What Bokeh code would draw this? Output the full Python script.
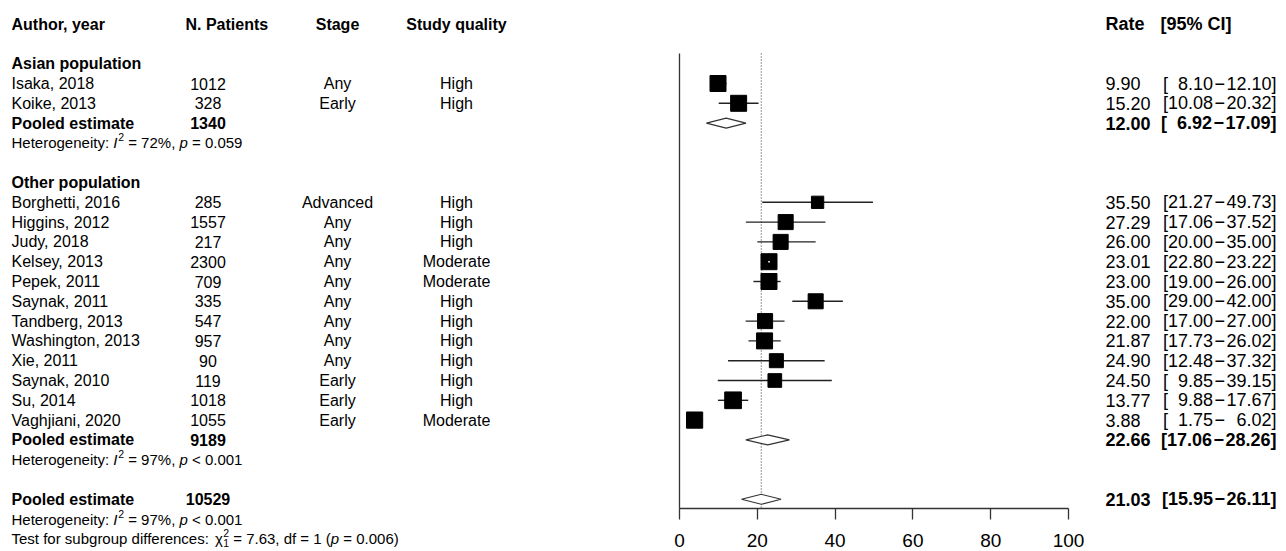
import math
from bokeh.plotting import figure
from bokeh.models import Range1d, LinearAxis, FixedTicker, ColumnDataSource, Label
from bokeh.embed import file_html
from bokeh.resources import INLINE

# ---------------- data ----------------
col_headers = ["Author, year", "N. Patients", "Stage", "Study quality", "Rate", "[95% CI]"]
group_names = ["Asian population", "Other population"]

asian_authors = ["Isaka, 2018", "Koike, 2013"]
asian_n = [1012, 328]
asian_stage = ["Any", "Early"]
asian_quality = ["High", "High"]
asian_rate = [9.90, 15.20]
asian_lo = [8.10, 10.08]
asian_hi = [12.10, 20.32]
asian_weight = [7.8, 7.8]

other_authors = ["Borghetti, 2016", "Higgins, 2012", "Judy, 2018", "Kelsey, 2013", "Pepek, 2011",
                 "Saynak, 2011", "Tandberg, 2013", "Washington, 2013", "Xie, 2011", "Saynak, 2010",
                 "Su, 2014", "Vaghjiani, 2020"]
other_n = [285, 1557, 217, 2300, 709, 335, 547, 957, 90, 119, 1018, 1055]
other_stage = ["Advanced", "Any", "Any", "Any", "Any", "Any", "Any", "Any", "Any", "Early", "Early", "Early"]
other_quality = ["High", "High", "High", "Moderate", "Moderate", "High", "High", "High", "High",
                 "High", "High", "Moderate"]
other_rate = [35.50, 27.29, 26.00, 23.01, 23.00, 35.00, 22.00, 21.87, 24.90, 24.50, 13.77, 3.88]
other_lo = [21.27, 17.06, 20.00, 22.80, 19.00, 29.00, 17.00, 17.73, 12.48, 9.85, 9.88, 1.75]
other_hi = [49.73, 37.52, 35.00, 23.22, 26.00, 42.00, 27.00, 26.02, 37.32, 39.15, 17.67, 6.02]
other_weight = [4.6, 6.9, 6.9, 7.8, 7.8, 6.9, 6.9, 7.8, 6.0, 5.7, 8.5, 8.0]

pooled_label = "Pooled estimate"
pooled_n = [1340, 9189, 10529]          # Asian, Other, Overall
pooled_rate = [12.00, 22.66, 21.03]
pooled_lo = [6.92, 17.06, 15.95]
pooled_hi = [17.09, 28.26, 26.11]
het_i2 = ["72%", "97%", "97%"]
het_p = ["= 0.059", "< 0.001", "< 0.001"]
test_chi2 = "7.63"
test_df = "1"
test_p = "0.006"

x_ticks = [0, 20, 40, 60, 80, 100]

# ---------------- layout constants ----------------
W, H = 1286, 551
PAGE = 0
X0_PX, PX_PER_UNIT = 679.0, 3.89
ROW1_PX, ROW_PX = 83.0, 19.8
AXIS_PX = 508
LINE_TOP_PX = 53.0

FONT = "Liberation Sans"
BODY, HET, RIGHT, SUP = 16, 15, 18, 10.5
AUTHOR_PX, N_PX, N_HEAD_PX, STAGE_PX, QUAL_PX = 11, 207.5, 185, 337, 456
RATE_PX, CI_PX, CI_HEAD_PX = 1105, 1276, 1160


def px2x(px):
    return (px - X0_PX) / PX_PER_UNIT


def row_of_px(py):
    return 1 + (py - ROW1_PX) / ROW_PX


x_start, x_end = px2x(PAGE), px2x(PAGE + W)
r_top, r_bot = row_of_px(PAGE), row_of_px(PAGE + H)
r_axis = row_of_px(AXIS_PX)

# rows
asian_head = 0
asian_rows = [asian_head + 1 + i for i in range(len(asian_authors))]
asian_pool_row = asian_rows[-1] + 1
asian_het_row = asian_pool_row + 1
other_head = asian_het_row + 2
other_rows = [other_head + 1 + i for i in range(len(other_authors))]
other_pool_row = other_rows[-1] + 1
other_het_row = other_pool_row + 1
overall_pool_row = other_het_row + 2
overall_het_row = overall_pool_row + 1
test_row = overall_het_row + 1
header_row = asian_head - 2

# ---------------- text helpers ----------------
ARIAL = {' ': 278, ':': 278, ',': 278, '.': 278, '=': 584, '<': 584, '%': 889, '(': 333, ')': 333,
         'H': 722, 'T': 611, 'I': 278, 'a': 556, 'b': 556, 'c': 500, 'd': 556, 'e': 556, 'f': 278,
         'g': 556, 'h': 556, 'i': 222, 'k': 500, 'l': 222, 'm': 833, 'n': 556, 'o': 556, 'p': 556,
         'r': 333, 's': 500, 't': 278, 'u': 556, 'y': 500, 'χ': 520}


def tw(s, size):
    return sum(ARIAL.get(c, 556) for c in s) * size / 1000.0


TEXTS = []


def add(x_px, row, text, size, style="normal", align="left"):
    TEXTS.append(dict(x=px2x(x_px), y=row, text=text, size=f"{size}px", style=style, align=align))


def rich(x_px, row, parts):
    cur = x_px
    for part in parts:
        kind, s = part[0], part[1]
        if kind in ("n", "i"):
            lead = len(s) - len(s.lstrip(" "))
            body = s.strip(" ")
            if body:
                add(cur + tw(" " * lead, HET), row, body, HET, "italic" if kind == "i" else "normal")
            cur += tw(s, HET)
        elif kind == "sup":
            add(cur + 0.8, row - 5.5 / ROW_PX, s, SUP)
            cur += tw(s, SUP) + 0.8
        elif kind == "supsub":
            sub = part[2]
            add(cur + 0.5, row - 5.5 / ROW_PX, s, SUP)
            add(cur + 0.5, row + 4.5 / ROW_PX, sub, SUP)
            cur += max(tw(s, SUP), tw(sub, SUP)) + 0.5


def het_line(row, i2, p):
    rich(AUTHOR_PX, row, [("n", "Heterogeneity: "), ("i", "I"), ("sup", "2"),
                          ("n", f" = {i2}, "), ("i", "p"), ("n", f" {p}")])


def ci_text(lo, hi):
    def pad(v):
        s = f"{v:.2f}"
        return ("\u2007" + s) if v < 10 else s
    return f"[{pad(lo)}\u200a\u2212\u200a{pad(hi)}]"


# headers
add(AUTHOR_PX, header_row, col_headers[0], BODY, "bold")
add(N_HEAD_PX, header_row, col_headers[1], BODY, "bold")
add(STAGE_PX, header_row, col_headers[2], BODY, "bold", "center")
add(QUAL_PX, header_row, col_headers[3], BODY, "bold", "center")
add(RATE_PX, header_row, col_headers[4], RIGHT, "bold")
add(CI_HEAD_PX, header_row, col_headers[5], RIGHT, "bold")

groups = [
    (group_names[0], asian_head, asian_rows, asian_authors, asian_n, asian_stage, asian_quality,
     asian_rate, asian_lo, asian_hi, asian_pool_row, asian_het_row, 0),
    (group_names[1], other_head, other_rows, other_authors, other_n, other_stage, other_quality,
     other_rate, other_lo, other_hi, other_pool_row, other_het_row, 1),
]
for (gname, ghead, grows, auth, nn, stg, qual, rate, lo, hi, prow, hrow, gi) in groups:
    add(AUTHOR_PX, ghead, gname, BODY, "bold")
    for r, a, n_, s_, q_, e_, l_, h_ in zip(grows, auth, nn, stg, qual, rate, lo, hi):
        add(AUTHOR_PX, r, a, BODY)
        add(N_PX, r, str(n_), BODY, align="center")
        add(STAGE_PX, r, s_, BODY, align="center")
        add(QUAL_PX, r, q_, BODY, align="center")
        add(RATE_PX, r, f"{e_:.2f}", RIGHT)
        add(CI_PX, r, ci_text(l_, h_), RIGHT, align="right")
    add(AUTHOR_PX, prow, pooled_label, BODY, "bold")
    add(N_PX, prow, str(pooled_n[gi]), BODY, "bold", "center")
    add(RATE_PX, prow, f"{pooled_rate[gi]:.2f}", RIGHT, "bold")
    add(CI_PX, prow, ci_text(pooled_lo[gi], pooled_hi[gi]), RIGHT, "bold", "right")
    het_line(hrow, het_i2[gi], het_p[gi])

add(AUTHOR_PX, overall_pool_row, pooled_label, BODY, "bold")
add(N_PX, overall_pool_row, str(pooled_n[2]), BODY, "bold", "center")
add(RATE_PX, overall_pool_row, f"{pooled_rate[2]:.2f}", RIGHT, "bold")
add(CI_PX, overall_pool_row, ci_text(pooled_lo[2], pooled_hi[2]), RIGHT, "bold", "right")
het_line(overall_het_row, het_i2[2], het_p[2])
rich(AUTHOR_PX, test_row, [("n", "Test for subgroup differences: "), ("n", "\u03c7"),
                           ("supsub", "2", "1"), ("n", f" = {test_chi2}, df = {test_df} ("),
                           ("i", "p"), ("n", f" = {test_p})")])

# ---------------- figure ----------------
p = figure(width=W, height=H, x_range=Range1d(x_start, x_end), y_range=Range1d(r_bot, r_top),
           x_axis_location=None, y_axis_location=None, toolbar_location=None,
           output_backend="svg", min_border=0)
p.outline_line_color = None
p.grid.visible = False
p.background_fill_color = "white"
p.border_fill_color = "white"

# vertical left line and dotted reference line at overall estimate
line_top = row_of_px(LINE_TOP_PX)
p.segment(x0=[0], x1=[0], y0=[line_top], y1=[r_axis], line_color="#333333", line_width=1.3)
p.segment(x0=[pooled_rate[2]], x1=[pooled_rate[2]], y0=[line_top], y1=[r_axis],
          line_color="#555555", line_width=1.2, line_dash="1 2")

# studies
st_rows = asian_rows + other_rows
st_est = asian_rate + other_rate
st_lo = asian_lo + other_lo
st_hi = asian_hi + other_hi
st_w = asian_weight + other_weight
BOX_REF, W_REF = 16.7, 8.5
st_size = [BOX_REF * math.sqrt(w / W_REF) for w in st_w]
inside = [(l >= e - s / 2 / PX_PER_UNIT) and (h <= e + s / 2 / PX_PER_UNIT)
          for e, l, h, s in zip(st_est, st_lo, st_hi, st_size)]

src = ColumnDataSource(dict(y=st_rows, est=st_est, lo=st_lo, hi=st_hi, size=st_size))
p.segment(x0="lo", x1="hi", y0="y", y1="y", source=src, line_color="#222222", line_width=1.4)
p.rect(x="est", y="y", width="size", height="size", width_units="screen", height_units="screen",
       source=src, fill_color="black", line_color="black")
ins = [i for i, v in enumerate(inside) if v]
if ins:
    p.segment(x0=[st_lo[i] for i in ins], x1=[st_hi[i] for i in ins],
              y0=[st_rows[i] for i in ins], y1=[st_rows[i] for i in ins],
              line_color="white", line_width=1.4)

# pooled diamonds
pool_rows = [asian_pool_row, other_pool_row, overall_pool_row]
hh = 5.0 / ROW_PX
p.patches(xs=[[l, e, h, e] for e, l, h in zip(pooled_rate, pooled_lo, pooled_hi)],
          ys=[[r, r - hh, r, r + hh] for r in pool_rows],
          fill_color="white", line_color="#333333", line_width=1.1)

# x axis, drawn at a fixed row inside the frame
ax = LinearAxis(ticker=FixedTicker(ticks=x_ticks), bounds=(0, 100), fixed_location=r_axis)
ax.major_tick_out = 11
ax.major_tick_in = 0
ax.minor_tick_out = 0
ax.minor_tick_in = 0
ax.axis_line_color = "#333333"
ax.axis_line_width = 1.3
ax.major_tick_line_color = "#333333"
ax.major_tick_line_width = 1.3
ax.major_label_text_font = FONT
ax.major_label_text_font_size = "19px"
ax.major_label_text_color = "black"
ax.major_label_standoff = 14
p.add_layout(ax, "below")

# texts
for t in TEXTS:
    p.add_layout(Label(x=t["x"], y=t["y"], text=t["text"], text_font=FONT,
                       text_font_size=t["size"], text_font_style=t["style"],
                       text_align=t["align"], text_baseline="middle", text_color="black"))

open("out.html", "w").write(file_html(p, INLINE))
